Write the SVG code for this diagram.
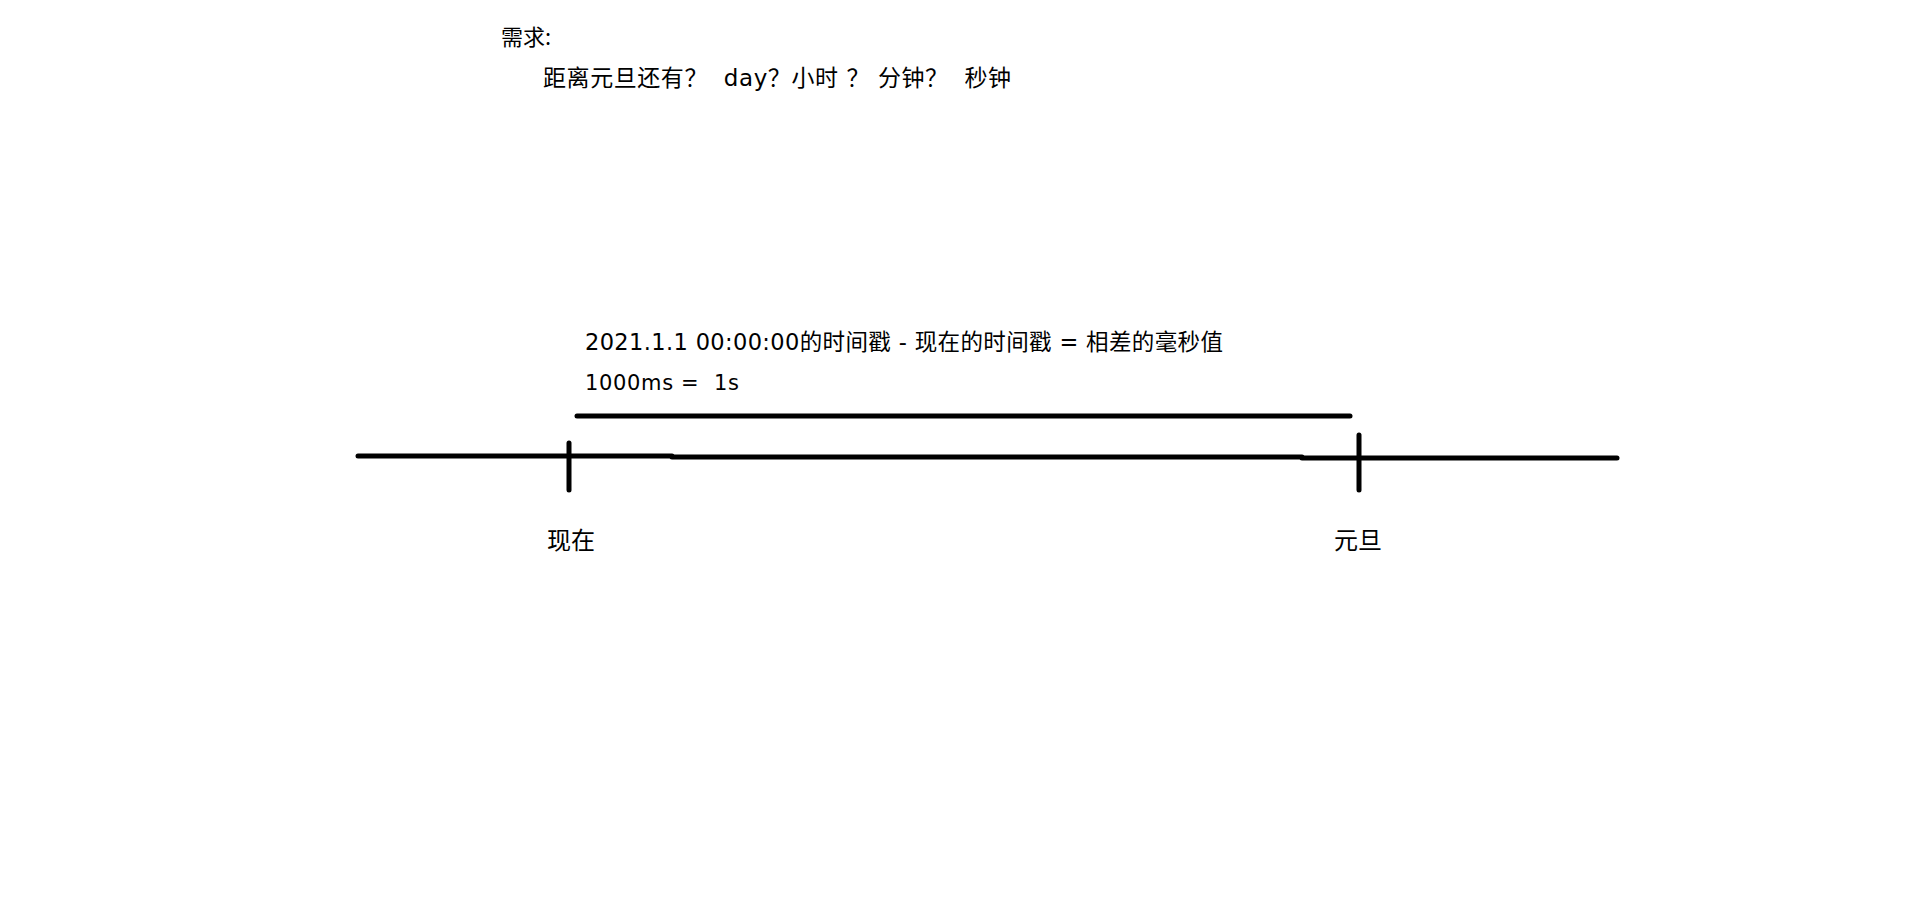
<svg xmlns="http://www.w3.org/2000/svg" width="1914" height="916" viewBox="0 0 1914 916">
<style>
.t{font-family:"DejaVu Sans","Noto Sans CJK SC",sans-serif;font-size:21px;fill:#000}
.c{font-family:"Noto Sans CJK SC",sans-serif;font-size:22px;fill:#000}
.ln{stroke:#000;stroke-width:5;stroke-linecap:round;fill:none}
</style>
<rect width="1914" height="916" fill="#fff"/>
<g id="title">
<text class="c" x="501" y="45">需求:</text>
<text class="t" x="543" y="86" xml:space="preserve" textLength="468" lengthAdjust="spacing" style="font-size:23px">距离元旦还有？  day？小时 ？ 分钟？  秒钟</text>
</g>
<g id="formula">
<text class="t" x="585" y="350" textLength="638" lengthAdjust="spacing" style="font-size:22.5px">2021.1.1 00:00:00的时间戳 - 现在的时间戳 = 相差的毫秒值</text>
<text class="t" x="585" y="390" xml:space="preserve" textLength="154" lengthAdjust="spacing">1000ms =  1s</text>
</g>
<g id="connectors">
<line class="ln" x1="577" y1="416" x2="1350" y2="416"/>
<line class="ln" x1="358" y1="456" x2="672" y2="456"/>
<line class="ln" x1="672" y1="457" x2="1302" y2="457"/>
<line class="ln" x1="1302" y1="458" x2="1617" y2="458"/>
</g>
<g id="now">
<line class="ln" x1="569" y1="443" x2="569" y2="490"/>
<text class="c" x="571" y="549" text-anchor="middle" style="font-size:24px">现在</text>
</g>
<g id="newyear">
<line class="ln" x1="1359" y1="435" x2="1359" y2="490"/>
<text class="c" x="1358" y="549" text-anchor="middle" style="font-size:24px">元旦</text>
</g>
</svg>
